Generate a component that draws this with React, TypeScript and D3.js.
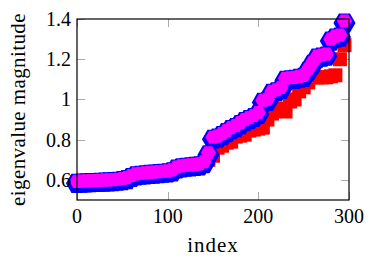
import React, { useRef, useEffect } from 'react';
import * as d3 from 'd3';

const indices = [
  0, 5, 10, 15, 20, 25, 30, 35, 40, 45, 50, 55, 60, 65, 70, 75, 80, 85, 90, 95,
  100, 105, 110, 115, 120, 125, 130, 135, 140, 145, 150, 155, 160, 165, 170, 175, 180, 185, 190, 195,
  200, 205, 210, 215, 220, 225, 230, 235, 240, 245, 250, 255, 260, 265, 270, 275, 280, 285, 290, 295,
];

const redValues = [
  0.590, 0.590, 0.592, 0.594, 0.596, 0.597, 0.598, 0.599, 0.600, 0.601,
  0.603, 0.606, 0.610, 0.625, 0.630, 0.633, 0.635, 0.637, 0.639, 0.641,
  0.642, 0.645, 0.648, 0.663, 0.670, 0.673, 0.676, 0.680, 0.678, 0.700,
  0.720, 0.760, 0.770, 0.785, 0.790, 0.815, 0.820, 0.825, 0.845, 0.850,
  0.855, 0.860, 0.900, 0.930, 0.950, 0.955, 0.940, 0.990, 1.000, 1.040,
  1.060, 1.085, 1.110, 1.110, 1.110, 1.110, 1.115, 1.120, 1.200, 1.270,
];

const hexValues = [
  0.593, 0.594, 0.595, 0.596, 0.597, 0.598, 0.599, 0.600, 0.601, 0.603,
  0.606, 0.611, 0.622, 0.630, 0.633, 0.635, 0.637, 0.639, 0.641, 0.643,
  0.645, 0.650, 0.664, 0.670, 0.673, 0.675, 0.677, 0.680, 0.690, 0.735,
  0.812, 0.818, 0.830, 0.845, 0.860, 0.870, 0.885, 0.900, 0.910, 0.920,
  0.935, 0.995, 1.000, 1.040, 1.048, 1.060, 1.105, 1.108, 1.110, 1.115,
  1.120, 1.150, 1.185, 1.215, 1.220, 1.225, 1.300, 1.315, 1.320, 1.390,
];

const xTicks = [0, 100, 200, 300];
const xTickLabels = ['0', '100', '200', '300'];
const yTicks = [0.6, 0.8, 1, 1.2, 1.4];
const yTickLabels = ['0.6', '0.8', '1', '1.2', '1.4'];

export default function App() {
  const ref = useRef<SVGSVGElement>(null);

  useEffect(() => {
    const svg = d3.select(ref.current);
    svg.selectAll('*').remove();
    const left = 77, right = 349, top = 19, bottom = 200;
    const x = d3.scaleLinear().domain([0, 300]).range([left, right]);
    const y = d3.scaleLinear().domain([0.5, 1.4]).range([bottom, top]);
    const font = "'Liberation Serif', 'Times New Roman', serif";
    const tickLen = 8;

    // ticks (beneath data)
    const tg = svg.append('g').attr('stroke', '#aaa').attr('stroke-width', 1);
    xTicks.forEach((t) => {
      const px = Math.round(x(t)) + 0.5;
      tg.append('line').attr('x1', px).attr('x2', px).attr('y1', bottom).attr('y2', bottom - tickLen);
      tg.append('line').attr('x1', px).attr('x2', px).attr('y1', top).attr('y2', top + tickLen);
    });
    yTicks.forEach((t) => {
      const py = Math.round(y(t)) + 0.5;
      tg.append('line').attr('x1', left).attr('x2', left + tickLen).attr('y1', py).attr('y2', py);
      tg.append('line').attr('x1', right).attr('x2', right - tickLen).attr('y1', py).attr('y2', py);
    });

    // red squares
    const s = 14;
    svg.append('g').selectAll('rect').data(indices).enter().append('rect')
      .attr('x', (d) => x(d) - s / 2)
      .attr('y', (d, i) => y(redValues[i]) - s / 2)
      .attr('width', s).attr('height', s)
      .attr('fill', '#ff0000');

    // hexagons: blue outline layer first, then magenta fill layer
    const R = 7.6;
    const h = (R * Math.sqrt(3)) / 2;
    const hexPath = `M${R},0L${R / 2},${h}L${-R / 2},${h}L${-R},0L${-R / 2},${-h}L${R / 2},${-h}Z`;
    svg.append('g').selectAll('path').data(indices).enter().append('path')
      .attr('d', hexPath)
      .attr('transform', (d, i) => `translate(${x(d)},${y(hexValues[i]) + 2})`)
      .attr('fill', '#0000ff')
      .attr('stroke', '#0000ff')
      .attr('stroke-width', 6)
      .attr('stroke-linejoin', 'miter');
    svg.append('g').selectAll('path').data(indices).enter().append('path')
      .attr('d', hexPath)
      .attr('transform', (d, i) => `translate(${x(d)},${y(hexValues[i])})`)
      .attr('fill', '#ff00ff');

    // axis box on top
    svg.append('rect')
      .attr('x', left).attr('y', top)
      .attr('width', right - left).attr('height', bottom - top)
      .attr('fill', 'none').attr('stroke', '#000').attr('stroke-width', 1.2);

    // tick labels
    xTicks.forEach((t, i) => {
      svg.append('text').attr('x', x(t)).attr('y', 223)
        .attr('text-anchor', 'middle').attr('font-family', font).attr('font-size', 20)
        .attr('fill', '#000').text(xTickLabels[i]);
    });
    yTicks.forEach((t, i) => {
      svg.append('text').attr('x', 71).attr('y', y(t) + 7)
        .attr('text-anchor', 'end').attr('font-family', font).attr('font-size', 20)
        .attr('fill', '#000').text(yTickLabels[i]);
    });

    // axis labels
    svg.append('text').attr('x', (left + right) / 2).attr('y', 252)
      .attr('text-anchor', 'middle').attr('font-family', font).attr('font-size', 21)
      .attr('letter-spacing', 1)
      .attr('fill', '#000').text('index');
    svg.append('text')
      .attr('transform', `translate(25,${(top + bottom) / 2}) rotate(-90)`)
      .attr('text-anchor', 'middle').attr('font-family', font).attr('font-size', 21)
      .attr('letter-spacing', 0.4)
      .attr('fill', '#000').text('eigenvalue magnitude');
  }, []);

  return (
    <svg
      ref={ref}
      width={373}
      height={260}
      style={{ position: 'absolute', left: 0, top: 0, background: '#fff' }}
    />
  );
}
